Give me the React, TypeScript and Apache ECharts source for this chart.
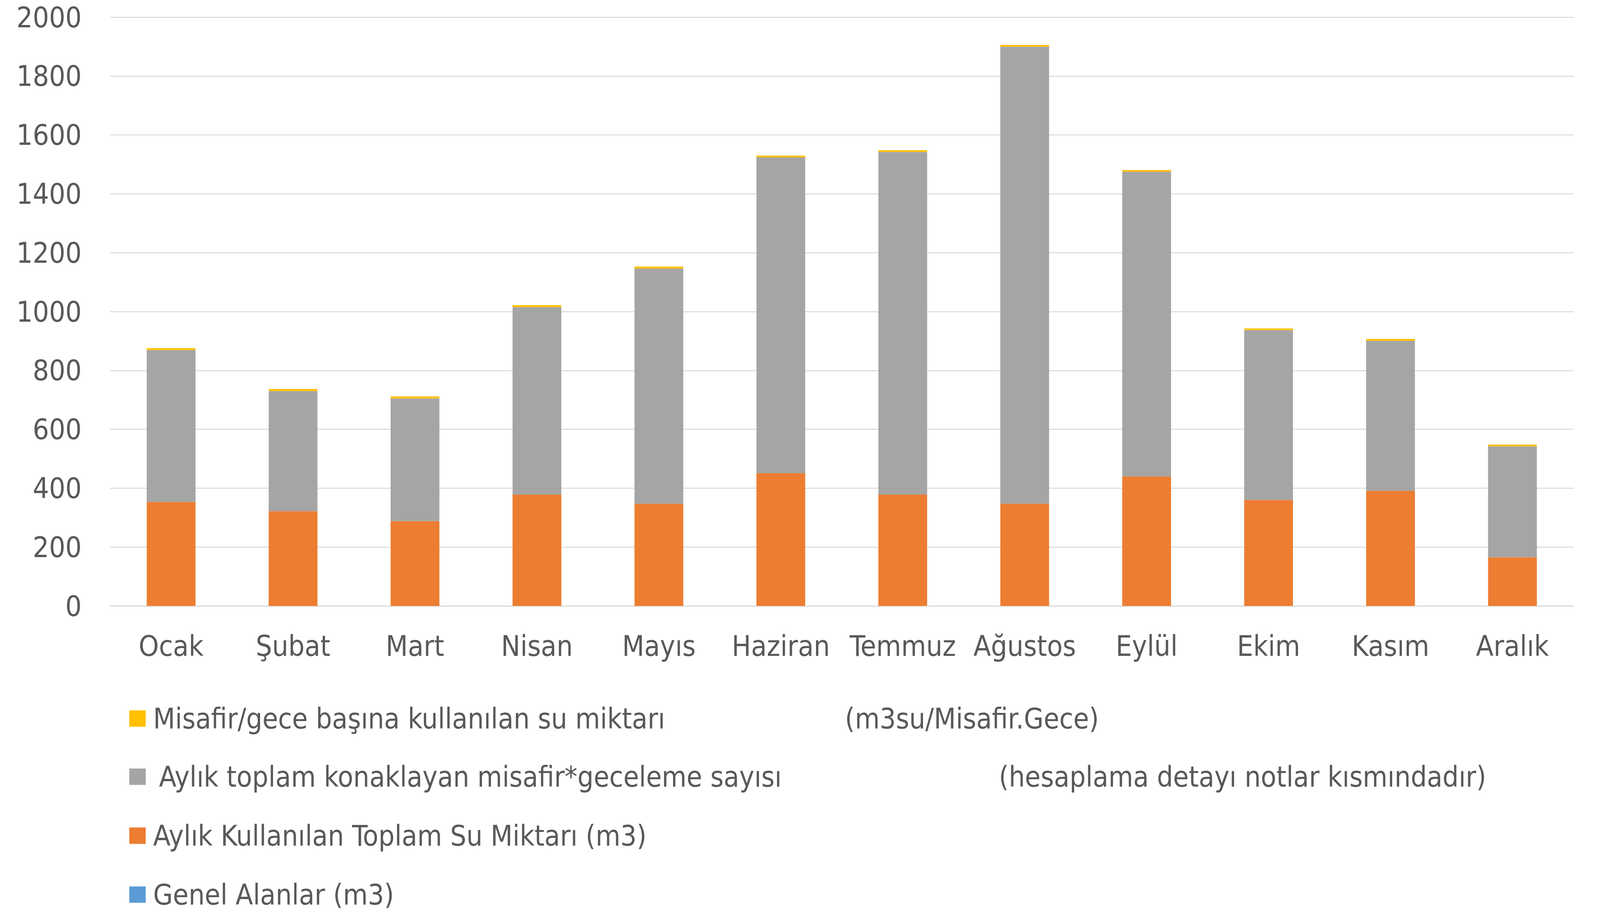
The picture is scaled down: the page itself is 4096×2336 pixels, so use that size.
import React, { useEffect, useRef } from "react";
import * as echarts from "echarts";

const months = ["Ocak", "Şubat", "Mart", "Nisan", "Mayıs", "Haziran", "Temmuz", "Ağustos", "Eylül", "Ekim", "Kasım", "Aralık"];
const toplamSu = [353, 322, 288, 378, 347, 451, 378, 347, 440, 360, 391, 165];
const misafirGece = [516, 408, 417, 637, 799, 1073, 1164, 1553, 1035, 577, 510, 377];
const misafirBasina = [6.5, 7, 7, 6.5, 7, 6, 6, 6, 5.7, 5.5, 6, 6];
const genelAlanlar: number[] = [];

const NAME_YELLOW = "Misafir/gece başına kullanılan su miktarı (m3su/Misafir.Gece)";
const NAME_GRAY = "Aylık toplam konaklayan misafir*geceleme sayısı (hesaplama detayı notlar kısmındadır)";
const NAME_ORANGE = "Aylık Kullanılan Toplam Su Miktarı (m3)";
const NAME_BLUE = "Genel Alanlar (m3)";
const legendOrder = [NAME_YELLOW, NAME_GRAY, NAME_ORANGE, NAME_BLUE];
const legendTops = [1799, 1948, 2099, 2250];

const FONT = "'DejaVu Sans Condensed', 'Liberation Sans Narrow', sans-serif";
const TEXT = "#595959";
const AX = 73;
const LG = 72.5;

export default function App() {
  const ref = useRef<HTMLDivElement>(null);
  useEffect(() => {
    if (!ref.current) return;
    const chart = echarts.init(ref.current, undefined, { renderer: "svg" });
    const legendFmt = (name: string) => {
      if (name === NAME_YELLOW) return "{p| }{a|Misafir/gece başına kullanılan su miktarı}{b|(m3su/Misafir.Gece)}";
      if (name === NAME_GRAY) return "{q| }{c|Aylık toplam konaklayan misafir*geceleme sayısı}{b|(hesaplama detayı notlar kısmındadır)}";
      return "{p| }{b|" + name + "}";
    };
    const rs = { fontSize: LG, fontFamily: FONT, color: TEXT, lineHeight: 60 };
    const legends = legendOrder.map((name, i) => ({
      orient: "vertical",
      left: 326,
      top: legendTops[i],
      itemWidth: 42,
      itemHeight: 42,
      icon: "rect",
      data: [name],
      formatter: legendFmt,
      textStyle: {
        fontFamily: FONT,
        fontSize: LG,
        color: TEXT,
        lineHeight: 60,
        rich: {
          p: { ...rs, width: 14 },
          q: { ...rs, width: 29 },
          a: { ...rs, width: 1771 },
          c: { ...rs, width: 2150 },
          b: { ...rs },
        },
      },
    }));
    chart.setOption({
      animation: false,
      backgroundColor: "#ffffff",
      grid: { left: 282, right: 68, top: 44, bottom: 784, containLabel: false },
      xAxis: {
        type: "category",
        data: months,
        axisTick: { show: false },
        axisLine: { lineStyle: { color: "#D9D9D9", width: 2.5 } },
        axisLabel: { color: TEXT, fontFamily: FONT, fontSize: AX, margin: 66, interval: 0 },
      },
      yAxis: {
        type: "value",
        min: 0,
        max: 2000,
        interval: 200,
        axisLine: { show: false },
        axisTick: { show: false },
        splitLine: { lineStyle: { color: "#D9D9D9", width: 2.5 } },
        axisLabel: { color: TEXT, fontFamily: FONT, fontSize: AX, margin: 73, formatter: (v: number) => String(v) },
      },
      legend: legends,
      series: [
        { name: NAME_BLUE, type: "bar", stack: "s", data: genelAlanlar, itemStyle: { color: "#5B9BD5" }, barWidth: "40%" },
        { name: NAME_ORANGE, type: "bar", stack: "s", data: toplamSu, itemStyle: { color: "#ED7D31" }, barWidth: "40%" },
        { name: NAME_GRAY, type: "bar", stack: "s", data: misafirGece, itemStyle: { color: "#A5A5A5" }, barWidth: "40%" },
        { name: NAME_YELLOW, type: "bar", stack: "s", data: misafirBasina, itemStyle: { color: "#FFC000" }, barWidth: "40%" },
      ],
    });
    return () => chart.dispose();
  }, []);
  return <div ref={ref} style={{ position: "fixed", left: 0, top: 0, width: 4096, height: 2336 }} />;
}
